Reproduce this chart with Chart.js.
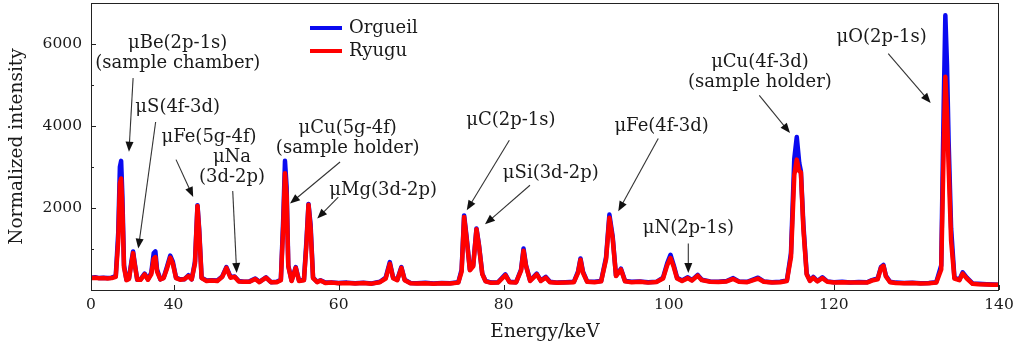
<!DOCTYPE html>
<html lang="en">
<head>
    <meta charset="UTF-8">
    <title>Muonic X-ray spectra - Orgueil vs Ryugu</title>
    <script src="https://cdn.jsdelivr.net/npm/chart.js@4.4.0/dist/chart.umd.min.js"></script>
    <style>
        html, body { margin: 0; padding: 0; background: #fff; }
        #chartCanvas { display: block; }
    </style>
</head>
<body>
<canvas id="chartCanvas" width="1018" height="349"></canvas>

<script>
    // energy in keV, counts normalized
    const energy = [
        30.0, 30.5, 31.0, 31.5, 32.0, 32.5, 33.0, 33.3, 33.5, 33.65, 33.8, 34.0, 34.3, 34.6, 34.9, 35.1, 35.3, 35.6,
        36.0, 36.5, 36.9, 37.3, 37.6, 37.8, 38.0, 38.4, 38.8, 39.2, 39.6, 39.9, 40.3, 40.8, 41.3, 41.8, 42.2, 42.6,
        42.9, 43.1, 43.4, 44.0, 44.6, 45.3, 45.9, 46.4, 46.9, 47.4, 47.9, 48.5, 49.2, 49.9, 50.4, 51.2, 51.8, 52.5,
        53.0, 53.3, 53.5, 53.7, 53.9, 54.3, 54.8, 55.2, 55.8, 56.1, 56.35, 56.6, 56.9, 57.4, 57.8, 58.4, 59.2, 60.0,
        61.0, 62.0, 63.0, 64.0, 65.0, 65.7, 66.2, 66.6, 67.1, 67.6, 68.0, 68.7, 69.5, 70.5, 71.5, 72.5, 73.5, 74.5,
        74.9, 75.2, 75.5, 75.9, 76.3, 76.7, 77.0, 77.4, 77.8, 78.5, 79.3, 80.2, 80.7, 81.5, 82.1, 82.4, 82.7, 83.2,
        84.0, 84.5, 85.1, 85.6, 86.5, 87.5, 88.5, 89.0, 89.3, 89.6, 90.1, 91.0, 91.8, 92.4, 92.8, 93.2, 93.6, 94.2,
        94.7, 95.5, 96.5, 97.5, 98.5, 99.3, 99.8, 100.2, 100.6, 101.0, 101.6, 102.3, 102.8, 103.5, 104.0, 105.0,
        106.0, 107.0, 107.8, 108.5, 109.5, 110.8, 111.5, 112.5, 113.5, 114.3, 114.8, 115.2, 115.5, 115.8, 116.0,
        116.3, 116.7, 117.1, 117.5, 118.0, 118.6, 119.2, 120.0, 121.0, 122.0, 123.0, 124.0, 124.6, 125.3, 125.7,
        126.0, 126.3, 126.8, 127.5, 128.5, 129.5, 130.5, 131.5, 132.4, 133.0, 133.3, 133.5, 133.7, 133.9, 134.2,
        134.6, 135.2, 135.6, 136.1, 136.8, 137.5, 138.5, 139.3, 140.0
    ];
    const orgueil = [
        300, 310, 290, 300, 290, 300, 340, 1400, 3000, 3150, 2300, 600, 250, 280, 700, 940, 650, 250,
        260, 400, 260, 420, 900, 940, 500, 260, 300, 560, 840, 700, 300, 260, 260, 360, 260, 700,
        2070, 1500, 300, 230, 240, 230, 330, 560, 320, 330, 220, 200, 210, 280, 200, 310, 190, 200,
        250, 1800, 3150, 2500, 600, 230, 560, 230, 250, 1200, 2100, 1600, 300, 200, 240, 180, 185, 170,
        180, 165, 175, 160, 200, 300, 680, 300, 250, 560, 250, 170, 165, 175, 160, 170, 165, 190,
        500, 1820, 1300, 500, 600, 1500, 1100, 400, 220, 180, 190, 380, 200, 190, 500, 1010, 600, 230,
        400, 230, 320, 200, 180, 190, 200, 450, 770, 450, 210, 200, 220, 800, 1840, 1300, 350, 520,
        220, 200, 210, 190, 200, 300, 650, 860, 600, 300, 230, 310, 240, 370, 250, 210,
        200, 220, 290, 210, 200, 300, 210, 190, 200, 230, 900, 3200, 3730, 3100, 2900,
        1600, 400, 230, 320, 220, 310, 210, 190, 200, 185, 195, 190, 240, 280, 560,
        610, 350, 200, 180, 170, 175, 165, 170, 190, 600, 4500, 6700, 5500, 3600, 1500,
        300, 250, 430, 300, 160, 150, 140, 135, 130
    ];
    const ryugu = [
        290, 300, 285, 290, 280, 290, 320, 1200, 2600, 2720, 2000, 550, 240, 270, 650, 900, 620, 250,
        250, 380, 250, 380, 760, 800, 450, 260, 290, 520, 790, 650, 290, 250, 260, 340, 260, 650,
        2050, 1450, 290, 220, 230, 220, 320, 540, 300, 320, 210, 200, 200, 270, 190, 300, 190, 190,
        240, 1600, 2850, 2300, 580, 220, 540, 220, 240, 1100, 2080, 1500, 290, 190, 230, 170, 180, 165,
        170, 160, 170, 155, 190, 280, 640, 290, 240, 540, 240, 165, 160, 165, 155, 165, 160, 180,
        450, 1780, 1250, 480, 580, 1480, 1080, 390, 210, 175, 180, 360, 190, 185, 470, 960, 580, 220,
        380, 220, 300, 190, 175, 185, 190, 420, 740, 420, 200, 190, 210, 750, 1760, 1250, 340, 500,
        210, 190, 200, 180, 195, 280, 600, 780, 560, 280, 220, 290, 230, 350, 240, 200,
        195, 210, 270, 200, 190, 280, 200, 185, 190, 220, 800, 2800, 3180, 2900, 2870,
        1500, 380, 220, 300, 210, 290, 200, 185, 190, 180, 185, 180, 230, 260, 540,
        590, 330, 190, 170, 165, 170, 160, 165, 180, 500, 3500, 5200, 4300, 3000, 1200,
        280, 240, 400, 280, 150, 140, 135, 130, 125
    ];

    const xTicks = [30, 40, 60, 80, 100, 120, 140];
    const xTickLabels = ['0', '40', '60', '80', '100', '120', '140'];
    const yTicks = [2000, 4000, 6000];
    const yMinorTicks = [1000, 3000, 5000];

    // peak labels: text anchor, arrow start, arrow tip (keV, counts)
    const peakLabels = [
        { lines: ['μBe(2p-1s)', '(sample chamber)'], at: [40.5, 6020], from: [35.1, 5170], to: [34.6, 3370] },
        { lines: ['μS(4f-3d)'], at: [40.5, 4463], from: [37.83, 4098], to: [35.73, 1010] },
        { lines: ['μFe(5g-4f)'], at: [44.3, 3732], from: [40.3, 3180], to: [42.38, 2268] },
        { lines: ['μNa', '(3d-2p)'], at: [47.08, 3244], from: [47.17, 2415], to: [47.65, 415] },
        { lines: ['μCu(5g-4f)', '(sample holder)'], at: [61.1, 3937], from: [60.17, 3122], to: [54.11, 2107] },
        { lines: ['μMg(3d-2p)'], at: [65.4, 2432], from: [59.96, 2268], to: [57.41, 1741] },
        { lines: ['μC(2p-1s)'], at: [80.86, 4139], from: [80.68, 3651], to: [75.52, 1944] },
        { lines: ['μSi(3d-2p)'], at: [85.7, 2839], from: [83.18, 2554], to: [77.73, 1602] },
        { lines: ['μFe(4f-3d)'], at: [99.13, 3993], from: [98.72, 3693], to: [93.88, 1920] },
        { lines: ['μN(2p-1s)'], at: [102.36, 1498], from: [102.36, 1132], to: [102.36, 415] },
        { lines: ['μCu(4f-3d)', '(sample holder)'], at: [111.04, 5561], from: [110.96, 4749], to: [114.68, 3829] },
        { lines: ['μO(2p-1s)'], at: [125.78, 6156], from: [126.58, 5766], to: [131.72, 4561] }
    ];

    const serif = '"DejaVu Serif", "Liberation Serif", serif';
    const inkColor = '#1a1a1a';

    const spectrumExtras = {
        id: 'spectrumExtras',
        afterDatasetsDraw(chart) {
            const ctx = chart.ctx;
            const xs = chart.scales.x;
            const ys = chart.scales.y;
            const area = chart.chartArea;

            ctx.save();

            // frame
            ctx.strokeStyle = '#222';
            ctx.lineWidth = 1;
            ctx.strokeRect(area.left + 0.5, area.top + 0.5, area.right - area.left - 1, area.bottom - area.top);

            // inward ticks
            ctx.beginPath();
            xTicks.forEach(function (v) {
                const px = Math.round(xs.getPixelForValue(v)) + 0.5;
                ctx.moveTo(px, area.bottom);
                ctx.lineTo(px, area.bottom - 5);
            });
            yTicks.forEach(function (v) {
                const py = Math.round(ys.getPixelForValue(v)) + 0.5;
                ctx.moveTo(area.left, py);
                ctx.lineTo(area.left + 5, py);
            });
            yMinorTicks.forEach(function (v) {
                const py = Math.round(ys.getPixelForValue(v)) + 0.5;
                ctx.moveTo(area.left, py);
                ctx.lineTo(area.left + 3, py);
            });
            ctx.stroke();

            // peak annotations
            ctx.font = '18px ' + serif;
            ctx.fillStyle = inkColor;
            ctx.textAlign = 'center';
            ctx.textBaseline = 'middle';
            peakLabels.forEach(function (p) {
                const tx = xs.getPixelForValue(p.at[0]);
                const ty = ys.getPixelForValue(p.at[1]);
                p.lines.forEach(function (line, i) {
                    ctx.fillText(line, tx, ty + i * 20);
                });

                const x1 = xs.getPixelForValue(p.from[0]);
                const y1 = ys.getPixelForValue(p.from[1]);
                const x2 = xs.getPixelForValue(p.to[0]);
                const y2 = ys.getPixelForValue(p.to[1]);
                const ang = Math.atan2(y2 - y1, x2 - x1);
                const headLen = 10, headW = 4;
                ctx.strokeStyle = '#333';
                ctx.lineWidth = 1.1;
                ctx.beginPath();
                ctx.moveTo(x1, y1);
                ctx.lineTo(x2 - Math.cos(ang) * headLen * 0.8, y2 - Math.sin(ang) * headLen * 0.8);
                ctx.stroke();
                ctx.fillStyle = '#111';
                ctx.beginPath();
                ctx.moveTo(x2, y2);
                ctx.lineTo(x2 - Math.cos(ang) * headLen + Math.sin(ang) * headW,
                           y2 - Math.sin(ang) * headLen - Math.cos(ang) * headW);
                ctx.lineTo(x2 - Math.cos(ang) * headLen - Math.sin(ang) * headW,
                           y2 - Math.sin(ang) * headLen + Math.cos(ang) * headW);
                ctx.closePath();
                ctx.fill();
                ctx.fillStyle = inkColor;
            });

            // legend, top-left inside the frame
            ctx.font = '18px ' + serif;
            ctx.textAlign = 'left';
            chart.data.datasets.forEach(function (ds, i) {
                const ly = area.top + 25 + i * 23;
                const lx = area.left + 219;
                ctx.strokeStyle = ds.borderColor;
                ctx.lineWidth = 4;
                ctx.beginPath();
                ctx.moveTo(lx, ly);
                ctx.lineTo(lx + 32, ly);
                ctx.stroke();
                ctx.fillStyle = inkColor;
                ctx.fillText(ds.label, lx + 39, ly);
            });

            ctx.restore();
        }
    };

    const ctx = document.getElementById('chartCanvas').getContext('2d');

    const myChart = new Chart(ctx, {
        type: 'line',
        data: {
            datasets: [{
                label: 'Orgueil',
                data: energy.map((e, i) => ({ x: e, y: orgueil[i] })),
                borderColor: 'rgb(10, 10, 240)',
                borderWidth: 4.5,
                borderJoinStyle: 'round',
                borderCapStyle: 'round',
                pointRadius: 0,
                tension: 0,
                order: 1
            }, {
                label: 'Ryugu',
                data: energy.map((e, i) => ({ x: e, y: ryugu[i] })),
                borderColor: 'rgb(255, 0, 0)',
                borderWidth: 4.5,
                borderJoinStyle: 'round',
                borderCapStyle: 'round',
                pointRadius: 0,
                tension: 0,
                order: 0
            }]
        },
        options: {
            responsive: false,
            animation: false,
            devicePixelRatio: 1,
            layout: { padding: { top: 3, right: 19, left: 0, bottom: 0 } },
            plugins: {
                legend: { display: false },
                tooltip: { enabled: false }
            },
            scales: {
                x: {
                    type: 'linear',
                    min: 30,
                    max: 140,
                    grid: { display: false, drawTicks: false },
                    border: { display: false },
                    afterBuildTicks: function (scale) {
                        scale.ticks = xTicks.map(v => ({ value: v }));
                    },
                    afterFit: function (scale) {
                        scale.height = 59;
                        scale.paddingLeft = 0;
                        scale.paddingRight = 0;
                    },
                    ticks: {
                        autoSkip: false,
                        maxRotation: 0,
                        padding: 6,
                        color: inkColor,
                        font: { family: serif, size: 15.5 },
                        callback: function (value) {
                            return xTickLabels[xTicks.indexOf(value)];
                        }
                    },
                    title: {
                        display: true,
                        text: 'Energy/keV',
                        color: inkColor,
                        font: { family: serif, size: 18.5 },
                        padding: { top: 0, bottom: 6 }
                    }
                },
                y: {
                    min: 0,
                    max: 7000,
                    grid: { display: false, drawTicks: false },
                    border: { display: false },
                    afterBuildTicks: function (scale) {
                        scale.ticks = yTicks.map(v => ({ value: v }));
                    },
                    afterFit: function (scale) {
                        scale.width = 91;
                        scale.paddingTop = 0;
                        scale.paddingBottom = 0;
                    },
                    ticks: {
                        padding: 9,
                        color: inkColor,
                        font: { family: serif, size: 15.5 },
                        callback: function (value) {
                            return String(value);
                        }
                    },
                    title: {
                        display: true,
                        text: 'Normalized intensity',
                        color: inkColor,
                        font: { family: serif, size: 18.5 },
                        padding: { top: 6, bottom: 0 }
                    }
                }
            }
        },
        plugins: [spectrumExtras]
    });
</script>
</body>
</html>
